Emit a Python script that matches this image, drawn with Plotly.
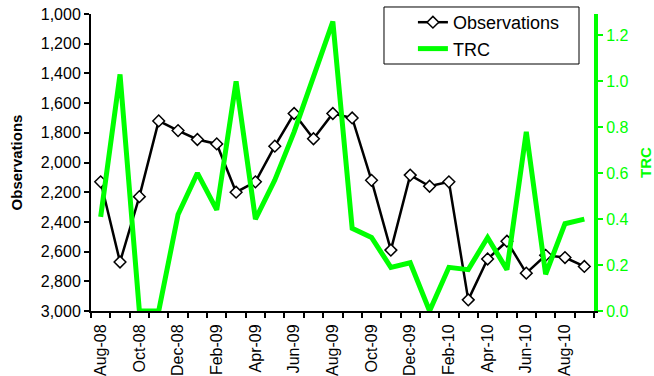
import plotly.graph_objects as go

# Monthly categories, Aug-08 .. Sep-10
months = ["Aug-08", "Sep-08", "Oct-08", "Nov-08", "Dec-08", "Jan-09", "Feb-09",
          "Mar-09", "Apr-09", "May-09", "Jun-09", "Jul-09", "Aug-09", "Sep-09",
          "Oct-09", "Nov-09", "Dec-09", "Jan-10", "Feb-10", "Mar-10", "Apr-10",
          "May-10", "Jun-10", "Jul-10", "Aug-10", "Sep-10"]

observations = [2130, 2670, 2230, 1720, 1785, 1845, 1875, 2200, 2130, 1890,
                1670, 1840, 1670, 1700, 2120, 2590, 2085, 2160, 2130, 2925,
                2650, 2530, 2745, 2625, 2640, 2700]

trc = [0.41, 1.03, 0.00, 0.00, 0.42, 0.60, 0.44, 1.00, 0.40, 0.57,
       0.78, 1.02, 1.26, 0.36, 0.32, 0.19, 0.21, 0.00, 0.19, 0.18,
       0.32, 0.18, 0.78, 0.16, 0.38, 0.40]

# Label every second month
tick_idx = list(range(0, len(months), 2))
tick_text = [months[i] for i in tick_idx]

FONT = "Arial, Liberation Sans, sans-serif"
GREEN = "#00ff00"

x = list(range(len(months)))

fig = go.Figure()
fig.add_trace(go.Scatter(
    x=x, y=observations, name="Observations", mode="lines+markers",
    line=dict(color="black", width=2.5),
    marker=dict(symbol="diamond", size=9, color="white",
                line=dict(color="black", width=1.5)),
    yaxis="y",
))
fig.add_trace(go.Scatter(
    x=x, y=trc, name="TRC", mode="lines",
    line=dict(color=GREEN, width=5),
    yaxis="y2",
))

# Framed box behind the legend entries
fig.add_shape(type="rect", xref="paper", yref="paper",
              x0=0.5825, x1=0.9702, y0=0.8316, y1=1.0236,
              line=dict(color="black", width=1), fillcolor="white",
              layer="above")

fig.update_layout(
    width=654, height=376,
    margin=dict(l=91, r=60, t=14, b=65, autoexpand=False),
    paper_bgcolor="white", plot_bgcolor="white",
    font=dict(family=FONT, size=16, color="black"),
    showlegend=True,
    legend=dict(
        x=0.64, y=0.9276, xanchor="left", yanchor="middle",
        bgcolor="rgba(0,0,0,0)", borderwidth=0,
        font=dict(family=FONT, size=18, color="black"),
        tracegroupgap=0,
    ),
    xaxis=dict(
        range=[-0.5, len(months) - 0.5], automargin=False,
        tickmode="array", tickvals=tick_idx, ticktext=tick_text,
        tickangle=-90, ticks="outside", ticklen=5,
        tickcolor="rgba(0,0,0,0)",
        tickfont=dict(family=FONT, size=16, color="black"),
        showline=True, linecolor="black", linewidth=2,
        showgrid=False, zeroline=False,
        minor=dict(tickmode="array",
                   tickvals=[i - 0.5 for i in range(len(months) + 1)],
                   ticks="outside", ticklen=5, tickwidth=1.5,
                   tickcolor="black", showgrid=False),
    ),
    yaxis=dict(
        range=[3000, 1000], dtick=200, tickformat=",", automargin=False,
        ticks="outside", ticklen=5, tickwidth=1.5, tickcolor="black",
        tickfont=dict(family=FONT, size=16, color="black"),
        showline=True, linecolor="black", linewidth=2,
        showgrid=False, zeroline=False,
        title=dict(text="<b>Observations</b>",
                   font=dict(family=FONT, size=15, color="black")),
    ),
    yaxis2=dict(
        overlaying="y", side="right", automargin=False,
        range=[0, 1.293], dtick=0.2, tickformat=".1f",
        ticks="outside", ticklen=5, tickwidth=2, tickcolor=GREEN,
        tickfont=dict(family=FONT, size=16, color=GREEN),
        showline=True, linecolor=GREEN, linewidth=4,
        showgrid=False, zeroline=False,
        title=dict(text="<b>TRC</b>",
                   font=dict(family=FONT, size=15, color=GREEN)),
    ),
)

fig.write_html("out.html")
